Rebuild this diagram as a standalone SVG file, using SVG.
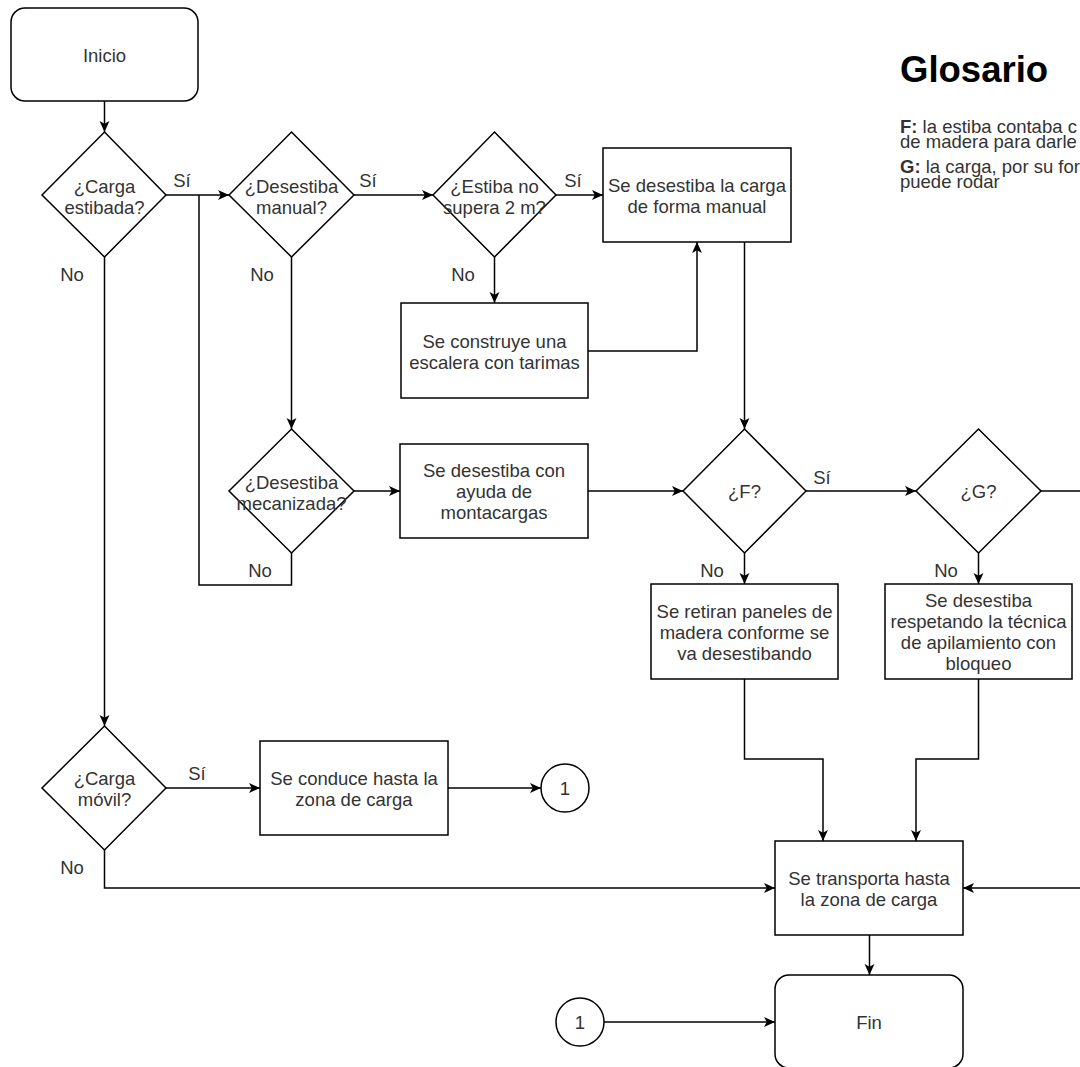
<svg xmlns="http://www.w3.org/2000/svg" width="1080" height="1067" viewBox="0 0 1080 1067">
  <style>
    .shape { fill: #ffffff; stroke: #000000; stroke-width: 1.5; }
    .edge { fill: none; stroke: #000000; stroke-width: 1.5; marker-end: url(#arrow); }
    .plain { fill: none; stroke: #000000; stroke-width: 1.5; }
    .lbl { font-family: "Liberation Sans", Arial, sans-serif; font-size: 18.5px; fill: #333333; text-anchor: middle; }
    .gl { font-family: "Liberation Sans", Arial, sans-serif; font-size: 18.5px; fill: #333333; }
    .title { font-family: "Liberation Sans", Arial, sans-serif; font-size: 36.5px; font-weight: bold; fill: #000000; }
  </style>
  <defs>
    <marker id="arrow" viewBox="0 0 10 10" refX="10" refY="5" markerWidth="11" markerHeight="11" markerUnits="userSpaceOnUse" orient="auto">
      <path d="M0,0.5 L10,5 L0,9.5 L2.5,5 z" fill="#000000"/>
    </marker>
  </defs>
  <rect width="1080" height="1067" fill="#ffffff"/>

  <!-- connectors -->
  <g id="connectors">
    <path class="edge" d="M104.5,101 V132"/>
    <path class="edge" d="M166,195 H229"/>
    <path class="plain" d="M291.5,553 V585 H199 V195"/>
    <path class="edge" d="M354,195 H433"/>
    <path class="edge" d="M556,195 H603"/>
    <path class="edge" d="M494.5,257 V303"/>
    <path class="edge" d="M588,351 H697 V242"/>
    <path class="edge" d="M291.5,257 V429"/>
    <path class="edge" d="M354,491 H400"/>
    <path class="edge" d="M588,491 H683"/>
    <path class="edge" d="M744.5,242 V429"/>
    <path class="edge" d="M806,491 H916"/>
    <path class="edge" d="M1041,491 H1095 V888 H963"/>
    <path class="edge" d="M744.5,553 V584"/>
    <path class="edge" d="M978.5,553 V584"/>
    <path class="edge" d="M744.5,679 V759 H823 V841"/>
    <path class="edge" d="M978.5,679 V759 H916 V841"/>
    <path class="edge" d="M104.5,257 V726"/>
    <path class="edge" d="M166,788 H260"/>
    <path class="edge" d="M448,788 H541"/>
    <path class="edge" d="M104.5,850 V888 H775"/>
    <path class="edge" d="M869.5,935 V975"/>
    <path class="edge" d="M604,1022 H775"/>

    <text class="lbl" x="182" y="187">Sí</text>
    <text class="lbl" x="368" y="187">Sí</text>
    <text class="lbl" x="573" y="187">Sí</text>
    <text class="lbl" x="72" y="281">No</text>
    <text class="lbl" x="262" y="281">No</text>
    <text class="lbl" x="463" y="281">No</text>
    <text class="lbl" x="260" y="577">No</text>
    <text class="lbl" x="822" y="484">Sí</text>
    <text class="lbl" x="712" y="577">No</text>
    <text class="lbl" x="946" y="577">No</text>
    <text class="lbl" x="197" y="780">Sí</text>
    <text class="lbl" x="72" y="874">No</text>
  </g>

  <!-- nodes -->
  <g id="inicio">
    <rect class="shape" x="11" y="8" width="187" height="93" rx="14"/>
    <text class="lbl" x="104.5" y="62">Inicio</text>
  </g>
  <g id="carga-estibada">
    <polygon class="shape" points="104.5,132 166,195 104.5,257 42,195"/>
    <text class="lbl" x="104.5" y="193">¿Carga</text>
    <text class="lbl" x="104.5" y="214">estibada?</text>
  </g>
  <g id="desestiba-manual">
    <polygon class="shape" points="291.5,132 354,195 291.5,257 229,195"/>
    <text class="lbl" x="291.5" y="193">¿Desestiba</text>
    <text class="lbl" x="291.5" y="214">manual?</text>
  </g>
  <g id="estiba-2m">
    <polygon class="shape" points="494.5,132 556,195 494.5,257 433,195"/>
    <text class="lbl" x="494.5" y="193">¿Estiba no</text>
    <text class="lbl" x="494.5" y="214">supera 2 m?</text>
  </g>
  <g id="forma-manual">
    <rect class="shape" x="603" y="148" width="188" height="94"/>
    <text class="lbl" x="697" y="192">Se desestiba la carga</text>
    <text class="lbl" x="697" y="213">de forma manual</text>
  </g>
  <g id="escalera">
    <rect class="shape" x="401" y="303" width="187" height="95"/>
    <text class="lbl" x="494.5" y="348">Se construye una</text>
    <text class="lbl" x="494.5" y="369">escalera con tarimas</text>
  </g>
  <g id="desestiba-mecanizada">
    <polygon class="shape" points="291.5,429 354,491 291.5,553 229,491"/>
    <text class="lbl" x="291.5" y="489">¿Desestiba</text>
    <text class="lbl" x="291.5" y="510">mecanizada?</text>
  </g>
  <g id="montacargas">
    <rect class="shape" x="400" y="444" width="188" height="94"/>
    <text class="lbl" x="494" y="477">Se desestiba con</text>
    <text class="lbl" x="494" y="498">ayuda de</text>
    <text class="lbl" x="494" y="519">montacargas</text>
  </g>
  <g id="pregunta-f">
    <polygon class="shape" points="744.5,429 806,491 744.5,553 683,491"/>
    <text class="lbl" x="744.5" y="498">¿F?</text>
  </g>
  <g id="pregunta-g">
    <polygon class="shape" points="978.5,429 1041,491 978.5,553 916,491"/>
    <text class="lbl" x="978.5" y="498">¿G?</text>
  </g>
  <g id="paneles">
    <rect class="shape" x="651" y="584" width="187" height="95"/>
    <text class="lbl" x="744.5" y="618">Se retiran paneles de</text>
    <text class="lbl" x="744.5" y="639">madera conforme se</text>
    <text class="lbl" x="744.5" y="660">va desestibando</text>
  </g>
  <g id="apilamiento">
    <rect class="shape" x="885" y="584" width="187" height="95"/>
    <text class="lbl" x="978.5" y="607">Se desestiba</text>
    <text class="lbl" x="978.5" y="628">respetando la técnica</text>
    <text class="lbl" x="978.5" y="649">de apilamiento con</text>
    <text class="lbl" x="978.5" y="670">bloqueo</text>
  </g>
  <g id="carga-movil">
    <polygon class="shape" points="104.5,726 166,788 104.5,850 42,788"/>
    <text class="lbl" x="104.5" y="785">¿Carga</text>
    <text class="lbl" x="104.5" y="806">móvil?</text>
  </g>
  <g id="conduce">
    <rect class="shape" x="260" y="741" width="188" height="94"/>
    <text class="lbl" x="354" y="785">Se conduce hasta la</text>
    <text class="lbl" x="354" y="806">zona de carga</text>
  </g>
  <g id="conector-1a">
    <circle class="shape" cx="565" cy="788" r="24"/>
    <text class="lbl" x="565" y="795">1</text>
  </g>
  <g id="transporta">
    <rect class="shape" x="775" y="841" width="188" height="94"/>
    <text class="lbl" x="869" y="885">Se transporta hasta</text>
    <text class="lbl" x="869" y="906">la zona de carga</text>
  </g>
  <g id="conector-1b">
    <circle class="shape" cx="580" cy="1022" r="24"/>
    <text class="lbl" x="580" y="1029">1</text>
  </g>
  <g id="fin">
    <rect class="shape" x="775" y="975" width="188" height="93" rx="14"/>
    <text class="lbl" x="869" y="1029">Fin</text>
  </g>

  <!-- glossary: heading and two tightly set paragraphs -->
  <g id="glosario">
    <text class="title" x="900" y="82">Glosario</text>
    <text class="gl" x="900" y="132.5"><tspan font-weight="bold">F:</tspan> la estiba contaba c<tspan x="900" dy="15">de madera para darle</tspan></text>
    <text class="gl" x="900" y="172.5"><tspan font-weight="bold">G:</tspan> la carga, por su for<tspan x="900" dy="15">puede rodar</tspan></text>
  </g>
</svg>
